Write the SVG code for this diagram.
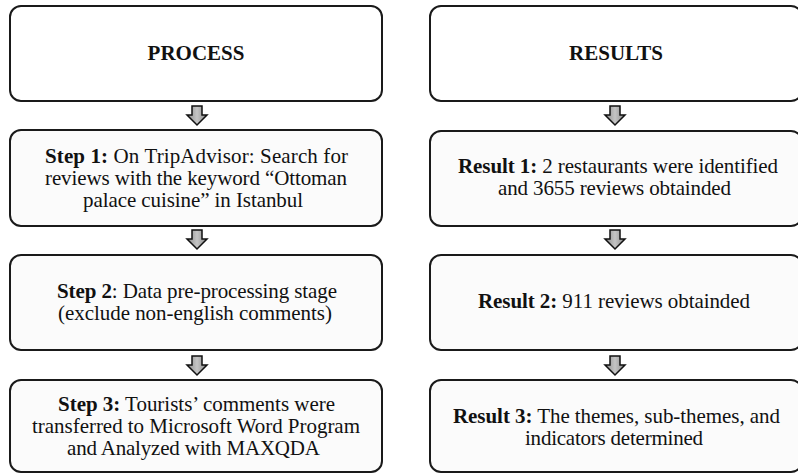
<svg xmlns="http://www.w3.org/2000/svg" width="798" height="475" viewBox="0 0 798 475">
<style>
.box{fill:#ffffff;stroke:#1a1a1a;stroke-width:2}
.lbox{fill:#fbfbfb;stroke:#1a1a1a;stroke-width:2}
text{font-family:"Liberation Serif","Times New Roman",serif;font-size:21px;fill:#111}
.h{font-size:21px;font-weight:bold;text-anchor:middle}
.b{font-weight:bold}
.arr{fill:url(#g);stroke:#111;stroke-width:1.5;stroke-linejoin:miter}
</style>
<defs>
<linearGradient id="g" x1="0" y1="0" x2="1" y2="0">
<stop offset="0" stop-color="#8a8a8a"/>
<stop offset="0.5" stop-color="#c4c4c4"/>
<stop offset="1" stop-color="#8a8a8a"/>
</linearGradient>
<path id="a" d="M-5,0 H5 V9 H10 L0,19 L-10,9 H-5 Z"/>
</defs>
<g id="connectors">
<use href="#a" class="arr" x="197" y="106"/>
<use href="#a" class="arr" x="197" y="230"/>
<use href="#a" class="arr" x="197" y="356"/>
<use href="#a" class="arr" x="615" y="106"/>
<use href="#a" class="arr" x="615" y="230"/>
<use href="#a" class="arr" x="615" y="356"/>
</g>
<g id="process">
<rect class="box" x="10" y="6" width="372" height="95" rx="11"/>
<text class="h" x="196" y="60">PROCESS</text>
</g>
<g id="step1">
<rect class="lbox" x="10" y="130" width="372" height="96" rx="11"/>
<text x="45" y="163" textLength="303" lengthAdjust="spacing"><tspan class="b">Step 1:</tspan>  On TripAdvisor: Search for</text>
<text x="45" y="185" textLength="302" lengthAdjust="spacing">reviews with the keyword “Ottoman</text>
<text x="83" y="207" textLength="220" lengthAdjust="spacing">palace cuisine” in Istanbul</text>
</g>
<g id="step2">
<rect class="lbox" x="10" y="255" width="372" height="95" rx="11"/>
<text x="57" y="298" textLength="280" lengthAdjust="spacing"><tspan class="b">Step 2</tspan>: Data pre-processing stage</text>
<text x="58" y="320" textLength="274" lengthAdjust="spacing">(exclude non-english comments)</text>
</g>
<g id="step3">
<rect class="lbox" x="10" y="380" width="372" height="92" rx="11"/>
<text x="58" y="411" textLength="277" lengthAdjust="spacing"><tspan class="b">Step 3:</tspan> Tourists’ comments were</text>
<text x="32" y="433" textLength="328" lengthAdjust="spacing">transferred to Microsoft Word Program</text>
<text x="67" y="455" textLength="253" lengthAdjust="spacing">and Analyzed  with MAXQDA</text>
</g>
<g id="results">
<rect class="box" x="430" y="6" width="372" height="95" rx="11"/>
<text class="h" x="616" y="60">RESULTS</text>
</g>
<g id="result1">
<rect class="lbox" x="430" y="131" width="372" height="95" rx="11"/>
<text x="458" y="173" textLength="320" lengthAdjust="spacing"><tspan class="b">Result 1:</tspan> 2 restaurants were identified</text>
<text x="498" y="195" textLength="233" lengthAdjust="spacing">and 3655 reviews obtainded</text>
</g>
<g id="result2">
<rect class="lbox" x="430" y="255" width="372" height="95" rx="11"/>
<text x="478" y="308" textLength="272" lengthAdjust="spacing"><tspan class="b">Result 2:</tspan> 911 reviews obtainded</text>
</g>
<g id="result3">
<rect class="lbox" x="430" y="380" width="372" height="92" rx="11"/>
<text x="453" y="423" textLength="327" lengthAdjust="spacing"><tspan class="b">Result 3:</tspan> The themes, sub-themes, and</text>
<text x="525" y="445" textLength="178" lengthAdjust="spacing">indicators determined</text>
</g>
</svg>
